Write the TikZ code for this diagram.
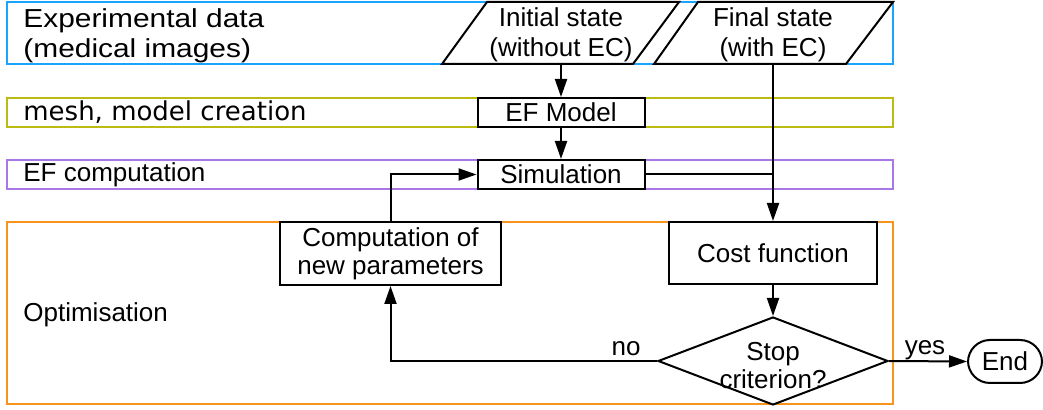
\documentclass[tikz,border=0pt]{standalone}
\usepackage{fontspec}
\setmainfont{Liberation Sans}
\newfontfamily\dejavu{DejaVu Sans}
\usetikzlibrary{shapes.geometric,arrows.meta}
\definecolor{bandblue}{RGB}{26,163,255}
\definecolor{bandolive}{RGB}{187,187,17}
\definecolor{bandpurple}{RGB}{170,120,230}
\definecolor{bandorange}{RGB}{247,148,29}
\tikzset{
  band/.style={line width=1.3pt},
  box/.style={draw=black, fill=white, line width=1pt, inner sep=0pt, align=center},
  lbl/.style={inner sep=0pt, anchor=west, align=left},
  arr/.style={line width=1pt, -{Triangle[length=9pt,width=6pt]}},
  ln/.style={line width=1pt},
}
\newcommand{\wide}[1]{\scalebox{1.15}[1]{#1}}
\begin{document}
\begin{tikzpicture}[x=0.5pt,y=-0.5pt,font=\fontsize{13}{15}\selectfont]
\useasboundingbox (0,0) rectangle (1043,410);
% bands
\draw[band,draw=bandblue] (7,2) rectangle (893,64);
\draw[band,draw=bandolive] (7,98) rectangle (893,127);
\draw[band,draw=bandpurple] (7,160) rectangle (893,189);
\draw[band,draw=bandorange] (7,222) rectangle (893,404);
% band labels
\node[lbl] (lexp) at (23,36) {\wide{Experimental data}\\\wide{(medical images)}};
\node[lbl,font=\dejavu\fontsize{13}{15}\selectfont] (lmesh) at (23,112.5) {mesh, model creation};
\node[lbl] (lef) at (23,175) {EF computation};
\node[lbl] (lopt) at (23,315) {Optimisation};
% parallelograms
\draw[ln,fill=white] (487,2) -- (679,2) -- (633,64) -- (442,64) -- cycle;
\draw[ln,fill=white] (698,2) -- (893,2) -- (846,64) -- (654,64) -- cycle;
\node[inner sep=0pt, minimum width=80pt, minimum height=31pt, align=center] (init) at (561,35) {Initial state\\(without EC)};
\node[inner sep=0pt, minimum width=80pt, minimum height=31pt, align=center] (final) at (773,35) {Final state\\(with EC)};
\coordinate (initS) at (561,64);
\coordinate (finalS) at (773,64);
% boxes
\node[box, minimum width=83.5pt, minimum height=14.5pt] (ef) at (561,112.5) {EF Model};
\node[box, minimum width=83.5pt, minimum height=14.5pt] (sim) at (561,174.5) {Simulation};
\node[box, minimum width=110.5pt, minimum height=31.5pt, font=\fontsize{13}{14}\selectfont] (comp) at (390.5,253.5) {Computation of\\new parameters};
\node[box, minimum width=104pt, minimum height=31pt] (cost) at (773,253) {Cost function};
\node[diamond, draw=black, fill=white, line width=1pt, inner sep=0pt, minimum width=115pt, minimum height=44pt] (stop) at (773,361) {};
\node[inner sep=0pt, align=center, font=\fontsize{13}{14}\selectfont] (stoptxt) at (773,366) {Stop\\criterion?};
\node[box, rounded corners=11pt, minimum width=37pt, minimum height=21.5pt] (end) at (1005,361.5) {End};
% connectors
\draw[arr] (initS) -- (ef.north);
\draw[arr] (ef.south) -- (sim.north);
\draw[arr] (finalS) -- (cost.north);
\draw[ln] (sim.east) -- (sim.east -| finalS);
\draw[arr] (comp.north) |- (sim.west);
\draw[arr] (cost.south) -- (stop.north);
\draw[arr] (stop.west) -| (comp.south);
\draw[arr] (stop.east) -- (end.west);
\node[inner sep=0pt, anchor=base] (no) at (626,356) {no};
\node[inner sep=0pt, anchor=base] (yes) at (925,355) {yes};
\end{tikzpicture}
\end{document}
